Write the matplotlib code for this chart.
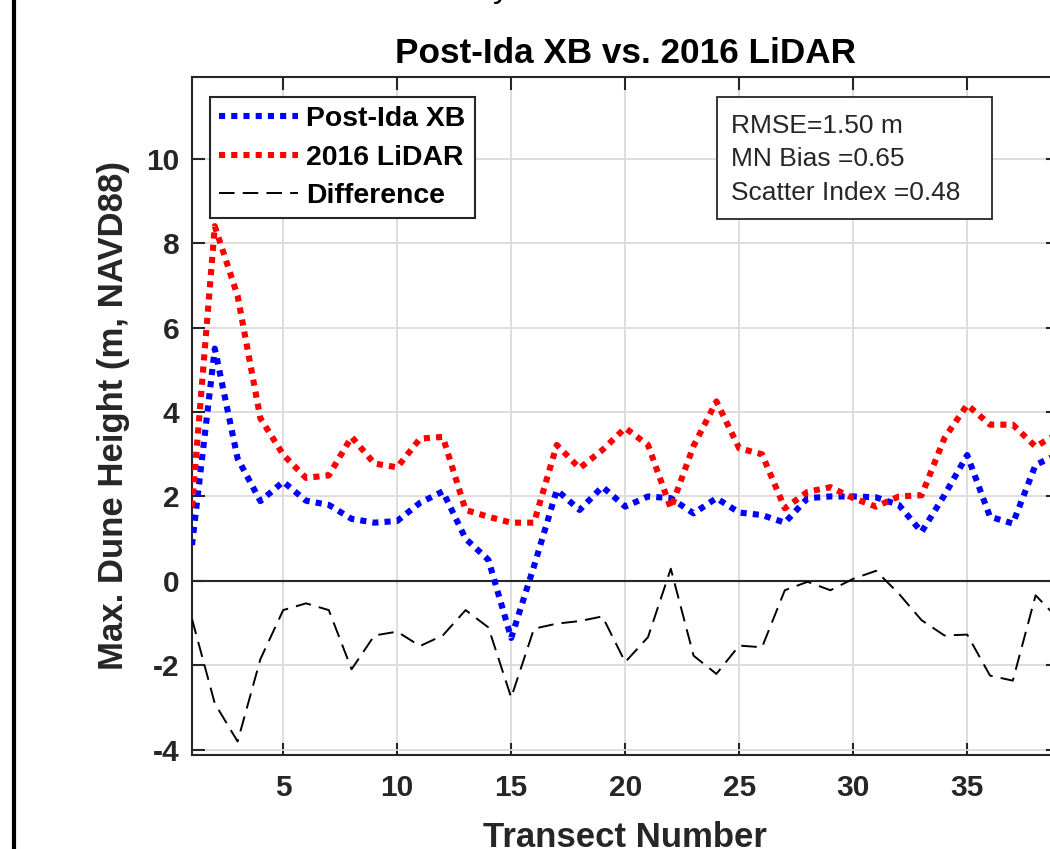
import matplotlib
matplotlib.use("Agg")
import matplotlib.pyplot as plt
from matplotlib.lines import Line2D
from matplotlib.patches import Rectangle

plt.rcParams['font.family'] = ['Liberation Sans', 'DejaVu Sans']
plt.rcParams['axes.unicode_minus'] = False

transect = list(range(1, 40))
post_ida_xb = [0.85, 5.5, 2.9, 1.89, 2.35, 1.9, 1.8, 1.47, 1.38, 1.42,
               1.85, 2.12, 1.0, 0.5, -1.35, 0.35, 2.15, 1.68, 2.23, 1.76,
               2.0, 1.96, 1.6, 1.96, 1.62, 1.56, 1.38, 1.96, 2.0, 2.0,
               1.98, 1.8, 1.16, 2.03, 2.98, 1.52, 1.36, 2.75, 3.0]
lidar_2016 = [1.76, 8.4, 6.75, 3.85, 2.99, 2.44, 2.5, 3.41, 2.78, 2.69,
              3.37, 3.41, 1.68, 1.52, 1.38, 1.38, 3.22, 2.67, 3.1, 3.62,
              3.22, 1.72, 3.2, 4.25, 3.14, 3.0, 1.72, 2.11, 2.22, 1.96,
              1.76, 2.0, 2.03, 3.38, 4.17, 3.7, 3.7, 3.18, 3.5]
difference = [-0.9, -2.9, -3.8, -1.85, -0.69, -0.53, -0.69, -2.09, -1.29, -1.2,
              -1.54, -1.29, -0.69, -1.1, -2.76, -1.13, -1.01, -0.95, -0.84, -1.92,
              -1.33, 0.29, -1.77, -2.2, -1.53, -1.57, -0.22, -0.02, -0.22, 0.05,
              0.24, -0.3, -0.93, -1.29, -1.27, -2.24, -2.36, -0.34, -0.9]

series_labels = ["Post-Ida XB", "2016 LiDAR", "Difference"]
stats_lines = ["RMSE=1.50 m", "MN Bias =0.65", "Scatter Index =0.48"]
xticks = [5, 10, 15, 20, 25, 30, 35]
yticks = [-4, -2, 0, 2, 4, 6, 8, 10]

W, H = 1050, 849
fig = plt.figure(figsize=(W / 100, H / 100), dpi=100)
ax = fig.add_axes([192 / W, 1 - 755 / H, 866.4 / W, 678 / H])

dark = '#262626'
ax.set_xlim(1, 39)
ax.set_ylim(-4.12, 11.93)
ax.set_xticks(xticks)
ax.set_yticks(yticks)
ax.grid(True, color='#dadada', linewidth=1.3, zorder=0)
ax.set_axisbelow(True)
ax.axhline(0, color=dark, linewidth=1.5, zorder=1)

ax.plot(transect, post_ida_xb, color='#0000ff', linewidth=4.4,
        linestyle=(0, (1, 1)), label=series_labels[0], zorder=3)
ax.plot(transect, lidar_2016, color='#ff0000', linewidth=4.4,
        linestyle=(0, (1, 1)), label=series_labels[1], zorder=3)
ax.plot(transect, difference, color='black', linewidth=1.4,
        linestyle=(0, (8, 4.2)), label=series_labels[2], zorder=3)

for s in ax.spines.values():
    s.set_color(dark)
    s.set_linewidth(1.5)
ax.tick_params(axis='both', which='both', direction='in', length=9, width=1.5,
               colors=dark, top=True, right=True, labelsize=21.5)
ax.tick_params(axis='x', pad=14)
ax.tick_params(axis='y', pad=9)
for lab in ax.get_xticklabels() + ax.get_yticklabels():
    lab.set_fontweight('bold')

ax.set_title("Post-Ida XB vs. 2016 LiDAR", fontsize=25.3, fontweight='bold', pad=10)
ax.set_xlabel("Transect Number", fontsize=25, fontweight='bold', color=dark)
ax.set_ylabel("Max. Dune Height (m, NAVD88)", fontsize=25, fontweight='bold', color=dark)
ax.xaxis.set_label_coords(0.5, -0.098)
ax.yaxis.set_label_coords(-0.072, 0.5)

leg = ax.legend(loc='upper left', bbox_to_anchor=(0.0208, 0.9705), borderaxespad=0,
                prop={'weight': 'bold', 'size': 20.4}, handlelength=2.8,
                handletextpad=0.28, labelspacing=0.44, borderpad=0.32,
                fancybox=False, framealpha=1, edgecolor=dark)
leg.get_frame().set_linewidth(1.5)

x0, x1 = 0.606, 0.9234
y0, y1 = 0.7906, 0.9705
ax.add_patch(Rectangle((x0, y0), x1 - x0, y1 - y0, transform=ax.transAxes,
                       facecolor='white', edgecolor=dark, linewidth=1.3, zorder=5))
for line, yb in zip(stats_lines, [0.9174, 0.8687, 0.8186]):
    ax.text(0.6221, yb, line, transform=ax.transAxes, fontsize=19,
            va='baseline', ha='left', color=dark, zorder=6)

fig.add_artist(Line2D([14 / W, 14 / W], [0, 1], transform=fig.transFigure,
                      color='black', linewidth=3))
fig.text(493 / W, 1 + 3 / H, "y", fontsize=24, va='baseline', ha='left')

fig.savefig("out.png", dpi=100)
